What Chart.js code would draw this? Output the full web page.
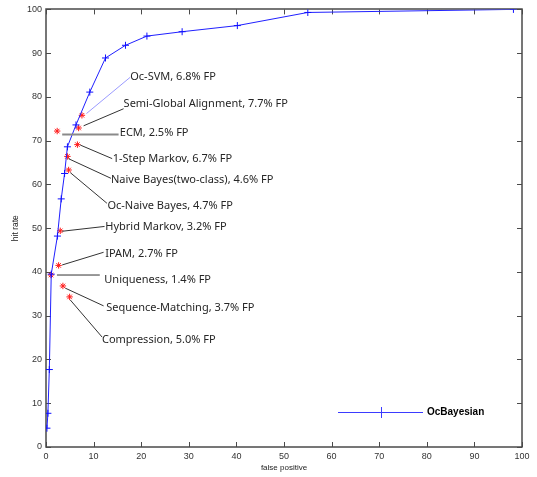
<!DOCTYPE html>
<html>
<head>
<meta charset="utf-8">
<script src="https://cdn.jsdelivr.net/npm/chart.js@4.4.1/dist/chart.umd.min.js"></script>
<style>
  html, body { margin: 0; padding: 0; background: #fff; }
  #wrap { width: 537px; height: 477px; }
</style>
</head>
<body>
<div id="wrap"><canvas id="rocChart" width="537" height="477"></canvas></div>
<script>
// OcBayesian ROC curve (false positive % vs hit rate %)
const curveFP = [0.2, 0.4, 0.7, 1.1, 2.4, 3.2, 3.9, 4.5, 6.3, 9.2, 12.5, 16.7, 21.2, 28.6, 40.2, 55.0, 98.2];
const curveHit = [4.3, 7.7, 17.7, 39.5, 48.2, 56.7, 62.5, 68.6, 73.6, 81.1, 88.9, 91.8, 93.9, 94.9, 96.3, 99.3, 100];

// other methods, single operating points (red stars)
const methodFP = [6.85, 7.55, 2.35, 6.6, 4.5, 4.75, 3.0, 2.65, 1.05, 3.55, 4.96];
const methodHit = [72.9, 75.8, 72.2, 69.1, 66.4, 63.3, 49.4, 41.5, 39.3, 36.8, 34.3];

// callout labels: text, where the leader starts and where the text sits
const calloutText = [
  'Oc-SVM, 6.8% FP',
  'Semi-Global Alignment, 7.7% FP',
  'ECM, 2.5% FP',
  '1-Step Markov, 6.7% FP',
  'Naive Bayes(two-class), 4.6% FP',
  'Oc-Naive Bayes, 4.7% FP',
  'Hybrid Markov, 3.2% FP',
  'IPAM, 2.7% FP',
  'Uniqueness, 1.4% FP',
  'Sequence-Matching, 3.7% FP',
  'Compression, 5.0% FP'
];
const leaderFromX = [8.5, 7.9, 3.4, 7.2, 4.7, 5.1, 3.4, 3.4, 2.3, 4.05, 5.1];
const leaderFromY = [76.2, 73.4, 71.4, 69.0, 65.9, 62.7, 49.3, 41.6, 39.3, 36.3, 33.6];
const leaderToX = [17.7, 16.3, 15.25, 13.9, 13.65, 12.8, 12.3, 12.1, 11.3, 12.1, 11.8];
const leaderToY = [84.5, 77.3, 71.4, 65.9, 61.4, 55.7, 50.4, 44.5, 39.3, 32.25, 25.1];
const textX = [17.7, 16.3, 15.5, 14.0, 13.65, 12.9, 12.45, 12.45, 12.25, 12.65, 11.75];
const textY = [84.5, 78.3, 71.8, 65.9, 61.0, 55.2, 50.2, 44.1, 38.3, 31.9, 24.5];
const leaderColor = ['#9a9aff', '#333', '#8a8a8a', '#333', '#333', '#333', '#333', '#333', '#333', '#333', '#333'];
const leaderWidth = [1, 1, 2, 1, 1, 1, 1, 1, 1, 1, 1];

const xTicks = [0, 10, 20, 30, 40, 50, 60, 70, 80, 90, 100];
const yTicks = [0, 10, 20, 30, 40, 50, 60, 70, 80, 90, 100];

const curvePoints = curveFP.map((v, i) => ({x: v, y: curveHit[i]}));
const methodPoints = methodFP.map((v, i) => ({x: v, y: methodHit[i]}));

// box around the plot with inward ticks on all four sides (matlab look)
const frameAndTicks = {
  id: 'frameAndTicks',
  beforeDatasetsDraw(chart) {
    const {ctx, chartArea: a, scales: {x, y}} = chart;
    ctx.save();
    ctx.strokeStyle = '#4a4a4a';
    ctx.lineWidth = 1;
    ctx.beginPath();
    xTicks.forEach(v => {
      const px = Math.round(x.getPixelForValue(v)) + 0.5;
      ctx.moveTo(px, a.bottom); ctx.lineTo(px, a.bottom - 5);
      ctx.moveTo(px, a.top); ctx.lineTo(px, a.top + 5);
    });
    yTicks.forEach(v => {
      const py = Math.round(y.getPixelForValue(v)) + 0.5;
      ctx.moveTo(a.left, py); ctx.lineTo(a.left + 5, py);
      ctx.moveTo(a.right, py); ctx.lineTo(a.right - 5, py);
    });
    ctx.stroke();
    ctx.lineWidth = 1.5;
    ctx.strokeRect(Math.round(a.left), Math.round(a.top), Math.round(a.width), Math.round(a.height));
    ctx.restore();
  }
};

// leader lines + text for the other methods
const callouts = {
  id: 'callouts',
  afterDatasetsDraw(chart) {
    const {ctx, scales: {x, y}} = chart;
    ctx.save();
    calloutText.forEach((t, i) => {
      ctx.beginPath();
      ctx.strokeStyle = leaderColor[i];
      ctx.lineWidth = leaderWidth[i];
      ctx.moveTo(x.getPixelForValue(leaderFromX[i]), y.getPixelForValue(leaderFromY[i]));
      ctx.lineTo(x.getPixelForValue(leaderToX[i]), y.getPixelForValue(leaderToY[i]));
      ctx.stroke();
    });
    ctx.fillStyle = '#262626';
    ctx.font = '11px "Noto Sans", sans-serif';
    ctx.textAlign = 'left';
    ctx.textBaseline = 'middle';
    calloutText.forEach((t, i) => {
      ctx.fillText(t, x.getPixelForValue(textX[i]), y.getPixelForValue(textY[i]));
    });
    ctx.restore();
  }
};

// legend in lower right of the plot
const boxLegend = {
  id: 'boxLegend',
  afterDraw(chart) {
    const {ctx, chartArea: a} = chart;
    const ly = a.bottom - 35;
    const x0 = a.right - 184, x1 = a.right - 99;
    ctx.save();
    ctx.strokeStyle = '#3b3bff';
    ctx.lineWidth = 1;
    ctx.beginPath();
    ctx.moveTo(x0, ly + 0.5); ctx.lineTo(x1, ly + 0.5);
    const mx = Math.round((x0 + x1) / 2) + 0.5;
    ctx.moveTo(mx, ly - 5); ctx.lineTo(mx, ly + 6);
    ctx.stroke();
    ctx.fillStyle = '#000';
    ctx.font = 'bold 10px "Liberation Sans", Arial, sans-serif';
    ctx.textBaseline = 'middle';
    ctx.fillText('OcBayesian', x1 + 4, ly);
    ctx.restore();
  }
};

new Chart(document.getElementById('rocChart').getContext('2d'), {
  type: 'scatter',
  data: {
    datasets: [
      {
        label: 'OcBayesian',
        data: curvePoints,
        showLine: true,
        borderColor: '#2020ff',
        borderWidth: 1,
        tension: 0,
        pointStyle: 'cross',
        pointRadius: 3.5,
        pointBorderColor: '#1010ff',
        pointBorderWidth: 1,
        pointBackgroundColor: '#1010ff'
      },
      {
        label: 'methods',
        data: methodPoints,
        showLine: false,
        pointStyle: 'star',
        pointRadius: 3.2,
        pointBorderColor: '#ff1a1a',
        pointBorderWidth: 1,
        pointBackgroundColor: '#ff1a1a'
      }
    ]
  },
  options: {
    responsive: false,
    animation: false,
    devicePixelRatio: 1,
    layout: { padding: { top: 7, right: 15, left: 0, bottom: 0 } },
    plugins: {
      legend: { display: false },
      tooltip: { enabled: false }
    },
    scales: {
      x: {
        type: 'linear',
        min: 0,
        max: 100,
        afterBuildTicks: s => { s.ticks = xTicks.map(v => ({value: v})); },
        afterFit: s => { s.height = 30; },
        grid: { display: false, drawTicks: false },
        border: { display: false },
        ticks: { color: '#333', font: { family: '"Liberation Sans", Arial, sans-serif', size: 9 }, padding: 4, maxRotation: 0 },
        title: { display: true, text: 'false positive', color: '#222', font: { family: '"Liberation Sans", Arial, sans-serif', size: 8 }, padding: { top: 0, bottom: 4 } }
      },
      y: {
        type: 'linear',
        min: 0,
        max: 100,
        afterBuildTicks: s => { s.ticks = yTicks.map(v => ({value: v})); },
        afterFit: s => { s.width = 46; },
        grid: { display: false, drawTicks: false },
        border: { display: false },
        ticks: { color: '#333', font: { family: '"Liberation Sans", Arial, sans-serif', size: 9 }, padding: 4 },
        title: { display: true, text: 'hit rate', color: '#222', font: { family: '"Liberation Sans", Arial, sans-serif', size: 8.5 }, padding: { top: 11, bottom: 0 } }
      }
    }
  },
  plugins: [frameAndTicks, callouts, boxLegend]
});
</script>
</body>
</html>
